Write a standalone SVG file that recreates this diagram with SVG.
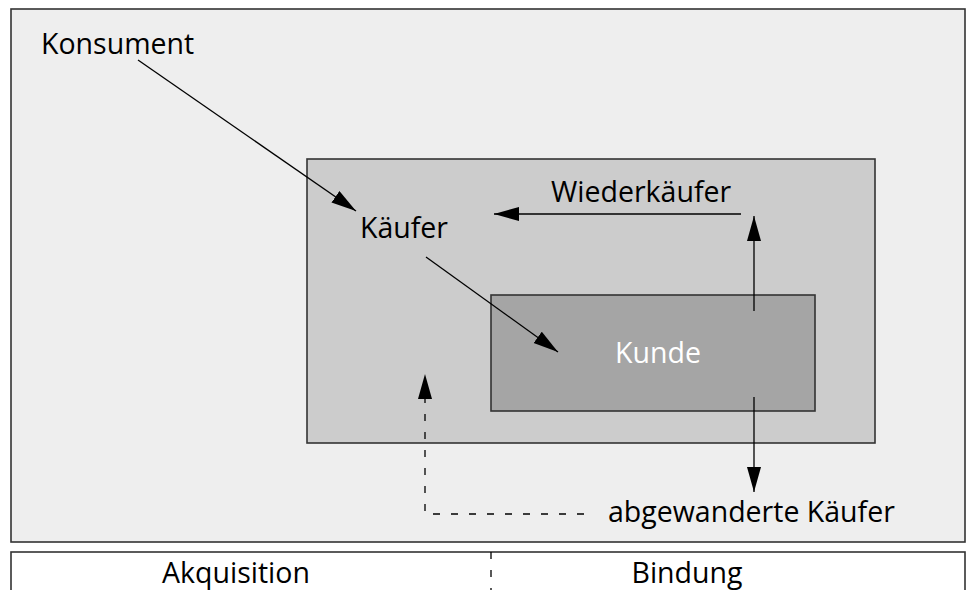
<svg xmlns="http://www.w3.org/2000/svg" width="967" height="590" viewBox="0 0 967 590">
  <style>
    .frame { stroke: #333333; stroke-width: 1.6; }
    .lbl { font-family: "Open Sans", "Noto Sans", "Liberation Sans", sans-serif; font-size: 28.5px; fill: #000000; }
    .mid { text-anchor: middle; }
    .conn { fill: none; stroke: #000000; stroke-width: 1.3; }
    .dash { stroke-dasharray: 7 11; }
  </style>
  <defs>
    <marker id="head" markerUnits="userSpaceOnUse" markerWidth="26" markerHeight="15" refX="25" refY="7" orient="auto">
      <path d="M0,0 L25,7 L0,14 Z" fill="#000000"/>
    </marker>
  </defs>

  <rect width="967" height="590" fill="#ffffff"/>

  <!-- market area -->
  <g id="markt">
    <rect class="frame" x="11" y="9" width="954" height="533" fill="#eeeeee"/>
  </g>

  <!-- phase strip -->
  <g id="phasen">
    <rect class="frame" x="11" y="552" width="954" height="60" fill="#ffffff"/>
    <line class="conn dash" x1="491" y1="552" x2="491" y2="590" stroke-width="1"/>
    <text class="lbl mid" x="236" y="583">Akquisition</text>
    <text class="lbl mid" x="687" y="583">Bindung</text>
  </g>

  <g id="kaeuferbereich">
    <rect class="frame" x="307" y="159" width="568" height="284" fill="#cccccc"/>
  </g>

  <g id="kunde">
    <rect class="frame" x="491" y="295" width="324" height="116" fill="#a5a5a5"/>
    <text class="lbl mid" x="658" y="363" style="fill:#ffffff">Kunde</text>
  </g>

  <g id="konsument">
    <text class="lbl" x="41" y="54">Konsument</text>
  </g>

  <g id="kaeufer">
    <text class="lbl" x="360" y="238">Käufer</text>
  </g>

  <g id="wiederkaeufer">
    <text class="lbl" x="551" y="202">Wiederkäufer</text>
  </g>

  <g id="abgewanderte">
    <text class="lbl" x="608" y="522">abgewanderte Käufer</text>
  </g>

  <!-- connectors -->
  <g id="connectors">
    <line class="conn" x1="138" y1="60" x2="356" y2="211" marker-end="url(#head)"/>
    <line class="conn" x1="426" y1="257" x2="558" y2="352" marker-end="url(#head)"/>
    <line class="conn" x1="741" y1="214" x2="494" y2="214" marker-end="url(#head)"/>
    <line class="conn" x1="754" y1="311" x2="754" y2="216" marker-end="url(#head)"/>
    <line class="conn" x1="754" y1="397" x2="754" y2="492" marker-end="url(#head)"/>
    <polyline class="conn dash" points="584,514 425,514 425,374" marker-end="url(#head)"/>
  </g>
</svg>
